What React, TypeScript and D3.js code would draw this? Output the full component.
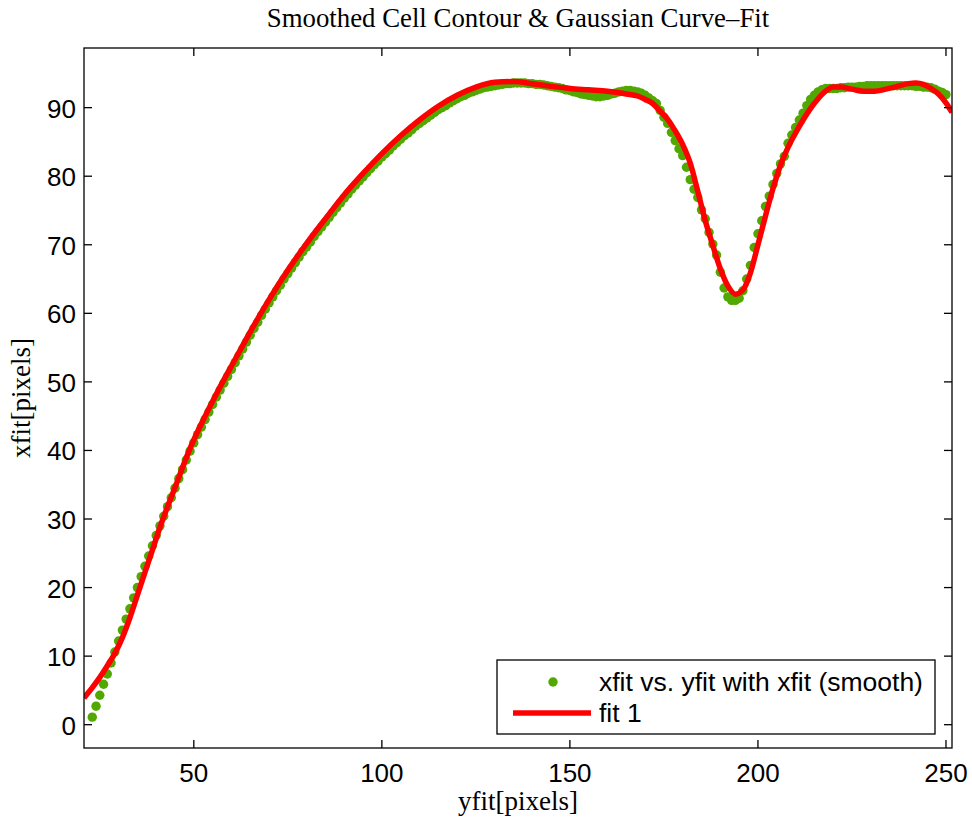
import React from "react";
import * as d3 from "d3";

// smoothed contour: yfit (x axis) and xfit (y axis), one dot per sample
const yfitSmooth = [
  23, 24, 25, 26, 27, 28, 29, 30, 31, 32, 33, 34, 35, 36, 37, 38, 39, 40,
  41, 42, 43, 44, 45, 46, 47, 48, 49, 50, 51, 52, 53, 54, 55, 56, 57, 58, 59, 60,
  61, 62, 63, 64, 65, 66, 67, 68, 69, 70, 71, 72, 73, 74, 75, 76, 77, 78, 79, 80,
  81, 82, 83, 84, 85, 86, 87, 88, 89, 90, 91, 92, 93, 94, 95, 96, 97, 98, 99, 100,
  101, 102, 103, 104, 105, 106, 107, 108, 109, 110, 111, 112, 113, 114, 115, 116, 117, 118, 119, 120,
  121, 122, 123, 124, 125, 126, 127, 128, 129, 130, 131, 132, 133, 134, 135, 136, 137, 138, 139, 140,
  141, 142, 143, 144, 145, 146, 147, 148, 149, 150, 151, 152, 153, 154, 155, 156, 157, 158, 159, 160,
  161, 162, 163, 164, 165, 166, 167, 168, 169, 170, 171, 172, 173, 174, 175, 176, 177, 178, 179, 180,
  181, 182, 183, 184, 185, 186, 187, 188, 189, 190, 191, 192, 193, 194, 195, 196, 197, 198, 199, 200,
  201, 202, 203, 204, 205, 206, 207, 208, 209, 210, 211, 212, 213, 214, 215, 216, 217, 218, 219, 220,
  221, 222, 223, 224, 225, 226, 227, 228, 229, 230, 231, 232, 233, 234, 235, 236, 237, 238, 239, 240,
  241, 242, 243, 244, 245, 246, 247, 248, 249, 250,
];
const xfitSmooth = [
  1.1, 2.7, 4.3, 5.9, 7.4, 9.0, 10.6, 12.2, 13.8, 15.4, 16.9, 18.5, 20.0, 21.6, 23.1, 24.6, 26.1, 27.6,
  29.0, 30.4, 31.8, 33.1, 34.5, 35.9, 37.2, 38.6, 39.9, 41.1, 42.3, 43.4, 44.5, 45.6, 46.7, 47.8, 48.8, 49.8, 50.8, 51.8,
  52.8, 53.8, 54.8, 55.8, 56.8, 57.8, 58.7, 59.7, 60.6, 61.5, 62.4, 63.3, 64.1, 65.0, 65.8, 66.6, 67.4, 68.2, 69.0, 69.7,
  70.4, 71.2, 71.9, 72.6, 73.3, 74.0, 74.7, 75.4, 76.1, 76.8, 77.4, 78.1, 78.7, 79.3, 79.9, 80.5, 81.1, 81.7, 82.2, 82.8,
  83.3, 83.8, 84.4, 84.9, 85.4, 85.9, 86.3, 86.8, 87.3, 87.7, 88.1, 88.5, 88.9, 89.3, 89.7, 90.0, 90.3, 90.7, 91.0, 91.3,
  91.6, 91.8, 92.1, 92.3, 92.5, 92.7, 92.9, 93.0, 93.1, 93.2, 93.3, 93.4, 93.5, 93.5, 93.6, 93.6, 93.6, 93.6, 93.5, 93.5,
  93.4, 93.4, 93.3, 93.2, 93.1, 93.0, 92.9, 92.8, 92.6, 92.5, 92.3, 92.2, 92.0, 91.9, 91.8, 91.7, 91.6, 91.6, 91.7, 91.8,
  92.0, 92.1, 92.3, 92.4, 92.5, 92.5, 92.4, 92.3, 92.1, 91.8, 91.4, 91.0, 90.6, 89.6, 88.6, 87.7, 86.4, 85.2, 84.0, 83.0,
  81.3, 79.5, 78.1, 76.9, 75.1, 73.8, 71.8, 70.1, 68.5, 66.0, 63.7, 62.4, 61.9, 61.9, 62.2, 63.3, 65.0, 67.0, 69.6, 71.6,
  73.5, 75.6, 77.1, 78.8, 80.4, 81.8, 82.9, 84.8, 86.0, 87.1, 88.2, 89.2, 90.3, 91.2, 91.8, 92.3, 92.6, 92.8, 92.8, 92.8,
  92.8, 92.9, 92.9, 93.0, 93.0, 93.0, 93.1, 93.1, 93.2, 93.2, 93.2, 93.2, 93.2, 93.2, 93.2, 93.2, 93.2, 93.2, 93.2, 93.2,
  93.2, 93.1, 93.1, 93.0, 93.0, 92.9, 92.7, 92.4, 92.2, 91.9,
];

// gaussian fit ("fit 1")
const fitX = [
  20.8, 23, 25, 27, 29, 31, 33, 35, 37, 39, 41, 45, 49, 53, 57, 61, 65, 70, 75, 80,
  85, 90, 95, 100, 105, 110, 115, 120, 125, 130, 135, 140, 145, 150, 155, 160, 165, 168, 170, 172,
  174, 176, 178, 180, 182, 184, 186, 188, 190, 192, 194, 196, 198, 200, 202, 204, 206, 208, 210, 212,
  214, 216, 218, 220, 222, 225, 228, 231, 234, 237, 240, 242, 244, 246, 248, 250, 251.6,
];
const fitY = [
  3.9, 5.4, 6.9, 8.6, 10.4, 12.7, 15.6, 18.9, 22.2, 25.5, 28.8, 34.6, 40.3, 45.0, 49.3, 53.3, 57.3, 62.0, 66.3, 70.2,
  73.8, 77.3, 80.4, 83.3, 85.9, 88.2, 90.2, 91.8, 93.0, 93.7, 93.8, 93.5, 93.1, 92.8, 92.6, 92.4, 92.0, 91.7, 91.2, 90.6,
  89.5, 88.3, 86.6, 84.6, 81.9, 77.8, 73.5, 69.9, 66.5, 64.0, 62.8, 63.4, 65.9, 70.0, 74.2, 78.2, 81.6, 84.2, 86.3, 88.2,
  89.9, 91.3, 92.4, 93.0, 93.0, 92.7, 92.4, 92.4, 92.7, 93.1, 93.5, 93.6, 93.4, 92.8, 92.0, 90.7, 89.3,
];

const xTicks = [50, 100, 150, 200, 250];
const yTicks = [0, 10, 20, 30, 40, 50, 60, 70, 80, 90];
const legendLabels = ["xfit vs. yfit with xfit (smooth)", "fit 1"];

const App = () => {
  const width = 972;
  const height = 821;
  const margin = { left: 84, top: 48, right: 20, bottom: 73 };
  const innerW = width - margin.left - margin.right;
  const innerH = height - margin.top - margin.bottom;

  const x = d3.scaleLinear().domain([20.8, 251.6]).range([0, innerW]);
  const y = d3.scaleLinear().domain([-3.4, 98.7]).range([innerH, 0]);

  const green = "#50a800";
  const red = "#ff0000";
  const sans = "'Liberation Sans', Arial, Helvetica, sans-serif";
  const serif = "'Liberation Serif', 'Times New Roman', serif";
  const tickLen = 8;
  const dotR = 4.7;

  const fitLine = d3
    .line<number>()
    .x((d, i) => x(fitX[i]))
    .y((d) => y(d))
    .curve(d3.curveMonotoneX)(fitY);

  // legend box
  const lg = { x: 497, y: 660, w: 438, h: 74 };

  return (
    <svg
      width={width}
      height={height}
      style={{ position: "absolute", left: 0, top: 0, background: "#fff" }}
    >
      <defs>
        <clipPath id="plotClip">
          <rect x={0} y={0} width={innerW} height={innerH} />
        </clipPath>
      </defs>
      <rect width={width} height={height} fill="#fff" />

      <text
        x={margin.left + innerW / 2}
        y={27}
        textAnchor="middle"
        fontFamily={serif}
        fontSize={26.8}
      >
        Smoothed Cell Contour &amp; Gaussian Curve–Fit
      </text>

      <g transform={`translate(${margin.left},${margin.top})`}>
        {/* data */}
        <g clipPath="url(#plotClip)">
          {xfitSmooth.map((v, i) => (
            <circle key={i} cx={x(yfitSmooth[i])} cy={y(v)} r={dotR} fill={green} />
          ))}
          <path d={fitLine || ""} fill="none" stroke={red} strokeWidth={5.5} />
        </g>

        {/* box */}
        <rect
          x={0}
          y={0}
          width={innerW}
          height={innerH}
          fill="none"
          stroke="#000"
          strokeWidth={1.3}
        />

        {/* x ticks */}
        {xTicks.map((t) => (
          <g key={t}>
            <line x1={x(t)} x2={x(t)} y1={innerH} y2={innerH - tickLen} stroke="#000" strokeWidth={1.3} />
            <line x1={x(t)} x2={x(t)} y1={0} y2={tickLen} stroke="#000" strokeWidth={1.3} />
            <text x={x(t)} y={innerH + 34} textAnchor="middle" fontFamily={sans} fontSize={26}>
              {t}
            </text>
          </g>
        ))}

        {/* y ticks */}
        {yTicks.map((t) => (
          <g key={t}>
            <line x1={0} x2={tickLen} y1={y(t)} y2={y(t)} stroke="#000" strokeWidth={1.3} />
            <line x1={innerW} x2={innerW - tickLen} y1={y(t)} y2={y(t)} stroke="#000" strokeWidth={1.3} />
            <text x={-8} y={y(t) + 10} textAnchor="end" fontFamily={sans} fontSize={26}>
              {t}
            </text>
          </g>
        ))}

        {/* legend */}
        <g transform={`translate(${lg.x - margin.left},${lg.y - margin.top})`}>
          <rect width={lg.w} height={lg.h} fill="#fff" stroke="#000" strokeWidth={1.3} />
          <circle cx={56} cy={22} r={dotR} fill={green} />
          <line x1={16} x2={94} y1={53} y2={53} stroke={red} strokeWidth={5.5} />
          {legendLabels.map((l, i) => (
            <text key={l} x={102} y={31 + i * 31} fontFamily={sans} fontSize={26.5}>
              {l}
            </text>
          ))}
        </g>
      </g>

      <text
        x={margin.left + innerW / 2}
        y={810}
        textAnchor="middle"
        fontFamily={serif}
        fontSize={27}
      >
        yfit[pixels]
      </text>
      <text
        transform={`translate(30,${margin.top + innerH / 2}) rotate(-90)`}
        textAnchor="middle"
        fontFamily={serif}
        fontSize={27}
      >
        xfit[pixels]
      </text>
    </svg>
  );
};

export default App;
